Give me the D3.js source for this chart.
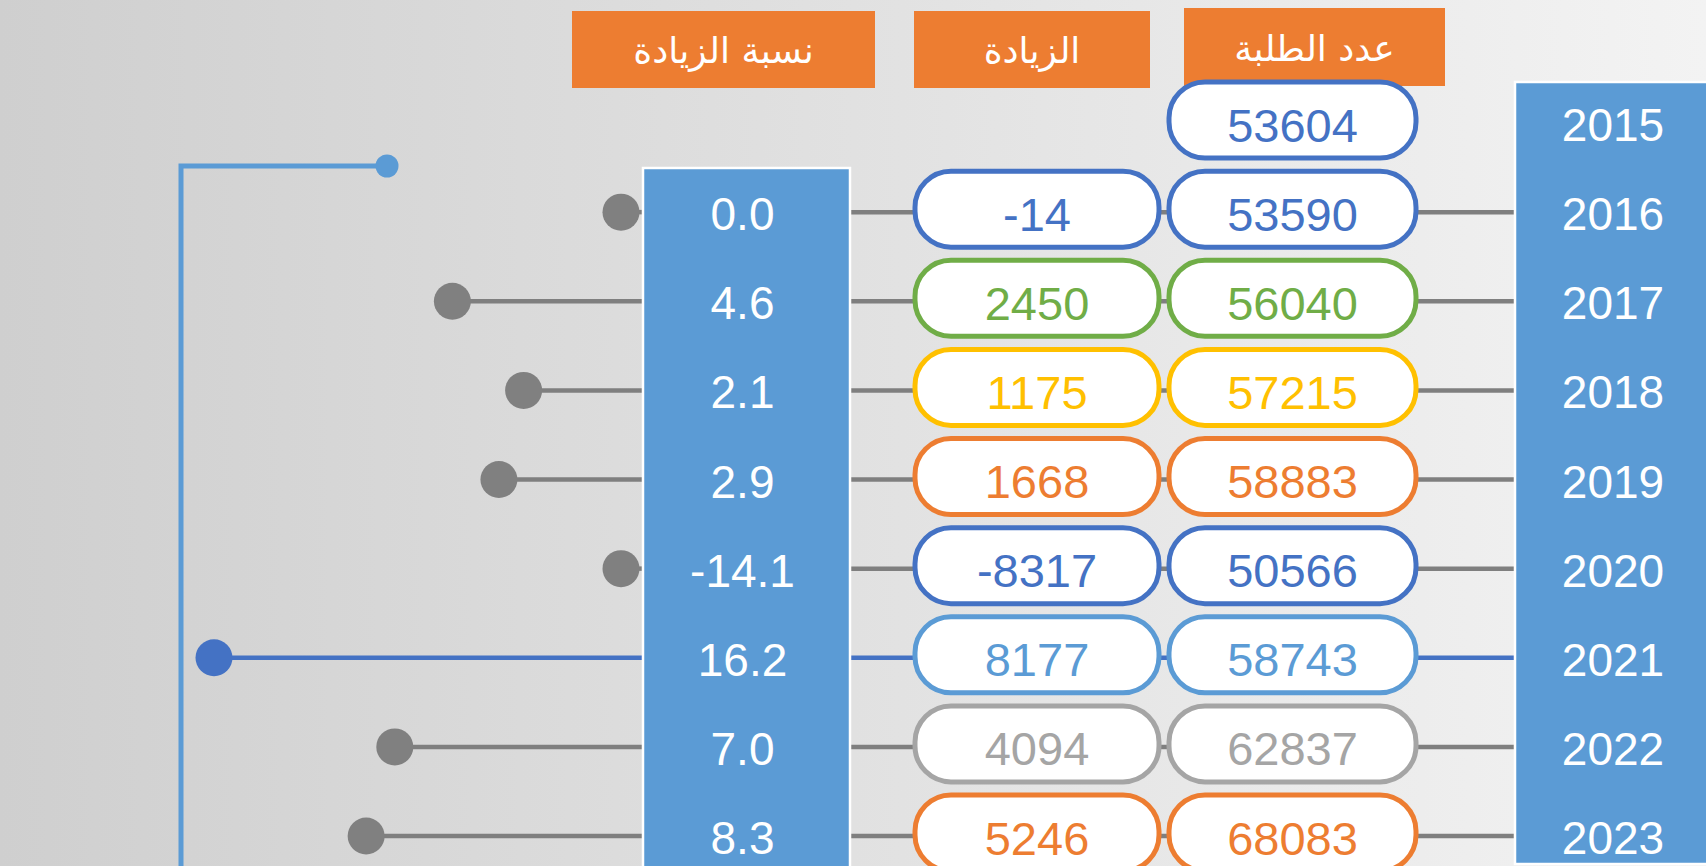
<!DOCTYPE html>
<html lang="ar">
<head>
<meta charset="utf-8">
<script src="https://cdn.jsdelivr.net/npm/d3@7"></script>
<style>
  html, body { margin: 0; padding: 0; overflow: hidden; background: #e0e0e0; }
  svg { display: block; }
</style>
</head>
<body>
<svg id="chart" width="1706" height="866"></svg>
<script>
// ---------- data ----------
const years = ["2015", "2016", "2017", "2018", "2019", "2020", "2021", "2022", "2023"];
const students = [53604, 53590, 56040, 57215, 58883, 50566, 58743, 62837, 68083];
const increases = [null, -14, 2450, 1175, 1668, -8317, 8177, 4094, 5246];
const pctIncrease = [null, 0.0, 4.6, 2.1, 2.9, -14.1, 16.2, 7.0, 8.3];
const pillColors = ["#4472C4", "#4472C4", "#70AD47", "#FFC000", "#ED7D31", "#4472C4", "#5B9BD5", "#A5A5A5", "#ED7D31"];
const headers = ["نسبة الزيادة", "الزيادة", "عدد الطلبة"];

const rows = years.map((y, i) => ({
  year: y, students: students[i], inc: increases[i], pct: pctIncrease[i], color: pillColors[i]
}));

// ---------- layout ----------
const W = 1706, H = 866;
const svg = d3.select("#chart");
const NUM_FONT = "'Liberation Sans', Arial, sans-serif";
const AR_FONT = "'DejaVu Sans', 'Noto Sans', sans-serif";

// background gradient
const defs = svg.append("defs");
const grad = defs.append("linearGradient").attr("id", "bg").attr("x1", "0").attr("x2", "1").attr("y1", "0").attr("y2", "0");
grad.append("stop").attr("offset", "0%").attr("stop-color", "#cfcfcf");
grad.append("stop").attr("offset", "100%").attr("stop-color", "#f3f3f3");
svg.append("rect").attr("width", W).attr("height", H).attr("fill", "url(#bg)");

// scales
const y = d3.scalePoint().domain(years).range([120, 833]);
const pctRect = { x0: 643, x1: 850, top: 168 };
const yearRect = { x0: 1515, x1: 1712, top: 82, bottom: 864 };
const incPill = { x0: 913, x1: 1161 };
const stuPill = { x0: 1167, x1: 1418 };
const pillH = 76;

const maxPct = d3.max(pctIncrease);
const xPct = d3.scalePow().exponent(0.7).domain([0, maxPct]).range([621, 214]).clamp(true);

// headers
const headerBoxes = [
  { x0: 572, x1: 875, y0: 11, y1: 88 },
  { x0: 914, x1: 1150, y0: 11, y1: 88 },
  { x0: 1184, x1: 1445, y0: 8, y1: 86 }
];
const hg = svg.append("g");
hg.selectAll("rect").data(headers).join("rect")
  .attr("x", (d, i) => headerBoxes[i].x0)
  .attr("y", (d, i) => headerBoxes[i].y0)
  .attr("width", (d, i) => headerBoxes[i].x1 - headerBoxes[i].x0)
  .attr("height", (d, i) => headerBoxes[i].y1 - headerBoxes[i].y0)
  .attr("fill", "#ED7D31");
hg.selectAll("text").data(headers).join("text")
  .attr("x", (d, i) => (headerBoxes[i].x0 + headerBoxes[i].x1) / 2)
  .attr("y", (d, i) => (headerBoxes[i].y0 + headerBoxes[i].y1) / 2 + 1)
  .attr("text-anchor", "middle")
  .attr("dominant-baseline", "central")
  .attr("fill", "#ffffff")
  .attr("font-family", AR_FONT)
  .attr("font-size", 36)
  .text(d => d);

// decorative bracket (top-left)
svg.append("path")
  .attr("d", `M${xPct(maxPct) + 173},166 H181 V${H + 5}`)
  .attr("fill", "none").attr("stroke", "#5B9BD5").attr("stroke-width", 5);
svg.append("circle").attr("cx", xPct(maxPct) + 173).attr("cy", 166).attr("r", 11.5).attr("fill", "#5B9BD5");

const dataRows = rows.filter(d => d.pct !== null);
const lineColor = d => d.pct === maxPct ? "#4472C4" : "#7F7F7F";
const lineY = d => y(d.year) + 3;

// connector lines (behind boxes)
const lg = svg.append("g");
lg.selectAll("line.right").data(dataRows).join("line")
  .attr("class", "right")
  .attr("x1", pctRect.x1).attr("x2", yearRect.x0)
  .attr("y1", lineY).attr("y2", lineY)
  .attr("stroke", lineColor).attr("stroke-width", 4.5);
lg.selectAll("line.left").data(dataRows).join("line")
  .attr("class", "left")
  .attr("x1", pctRect.x0).attr("x2", d => xPct(d.pct))
  .attr("y1", lineY).attr("y2", lineY)
  .attr("stroke", lineColor).attr("stroke-width", 4.5);
lg.selectAll("circle").data(dataRows).join("circle")
  .attr("cx", d => xPct(d.pct))
  .attr("cy", lineY)
  .attr("r", 18.5)
  .attr("fill", d => d.pct === maxPct ? "#4472C4" : "#808080");

// percentage column
svg.append("rect")
  .attr("x", pctRect.x0).attr("y", pctRect.top)
  .attr("width", pctRect.x1 - pctRect.x0).attr("height", H - pctRect.top + 10)
  .attr("fill", "#5B9BD5").attr("stroke", "#ffffff").attr("stroke-width", 2.5);
svg.append("g").selectAll("text").data(dataRows).join("text")
  .attr("x", (pctRect.x0 + pctRect.x1) / 2 - 4)
  .attr("y", d => y(d.year) + 5)
  .attr("text-anchor", "middle").attr("dominant-baseline", "central")
  .attr("fill", "#ffffff").attr("font-family", NUM_FONT).attr("font-size", 46)
  .text(d => d.pct.toFixed(1));

// year column
svg.append("rect")
  .attr("x", yearRect.x0).attr("y", yearRect.top)
  .attr("width", yearRect.x1 - yearRect.x0).attr("height", yearRect.bottom - yearRect.top)
  .attr("fill", "#5B9BD5").attr("stroke", "#ffffff").attr("stroke-width", 2.5);
svg.append("g").selectAll("text").data(rows).join("text")
  .attr("x", 1613)
  .attr("y", d => y(d.year) + 5)
  .attr("text-anchor", "middle").attr("dominant-baseline", "central")
  .attr("fill", "#ffffff").attr("font-family", NUM_FONT).attr("font-size", 46)
  .text(d => d.year);

// pills
function pills(data, box, accessor) {
  const g = svg.append("g");
  g.selectAll("rect").data(data).join("rect")
    .attr("x", box.x0 + 2)
    .attr("y", d => y(d.year) - pillH / 2)
    .attr("width", box.x1 - box.x0 - 4)
    .attr("height", pillH)
    .attr("rx", 36).attr("ry", 36)
    .attr("fill", "#ffffff")
    .attr("stroke", d => d.color).attr("stroke-width", 5);
  g.selectAll("text").data(data).join("text")
    .attr("x", (box.x0 + box.x1) / 2)
    .attr("y", d => y(d.year) + 5)
    .attr("text-anchor", "middle").attr("dominant-baseline", "central")
    .attr("fill", d => d.color).attr("font-family", NUM_FONT).attr("font-size", 47)
    .text(accessor);
}
pills(dataRows, incPill, d => d.inc);
pills(rows, stuPill, d => d.students);
</script>
</body>
</html>
